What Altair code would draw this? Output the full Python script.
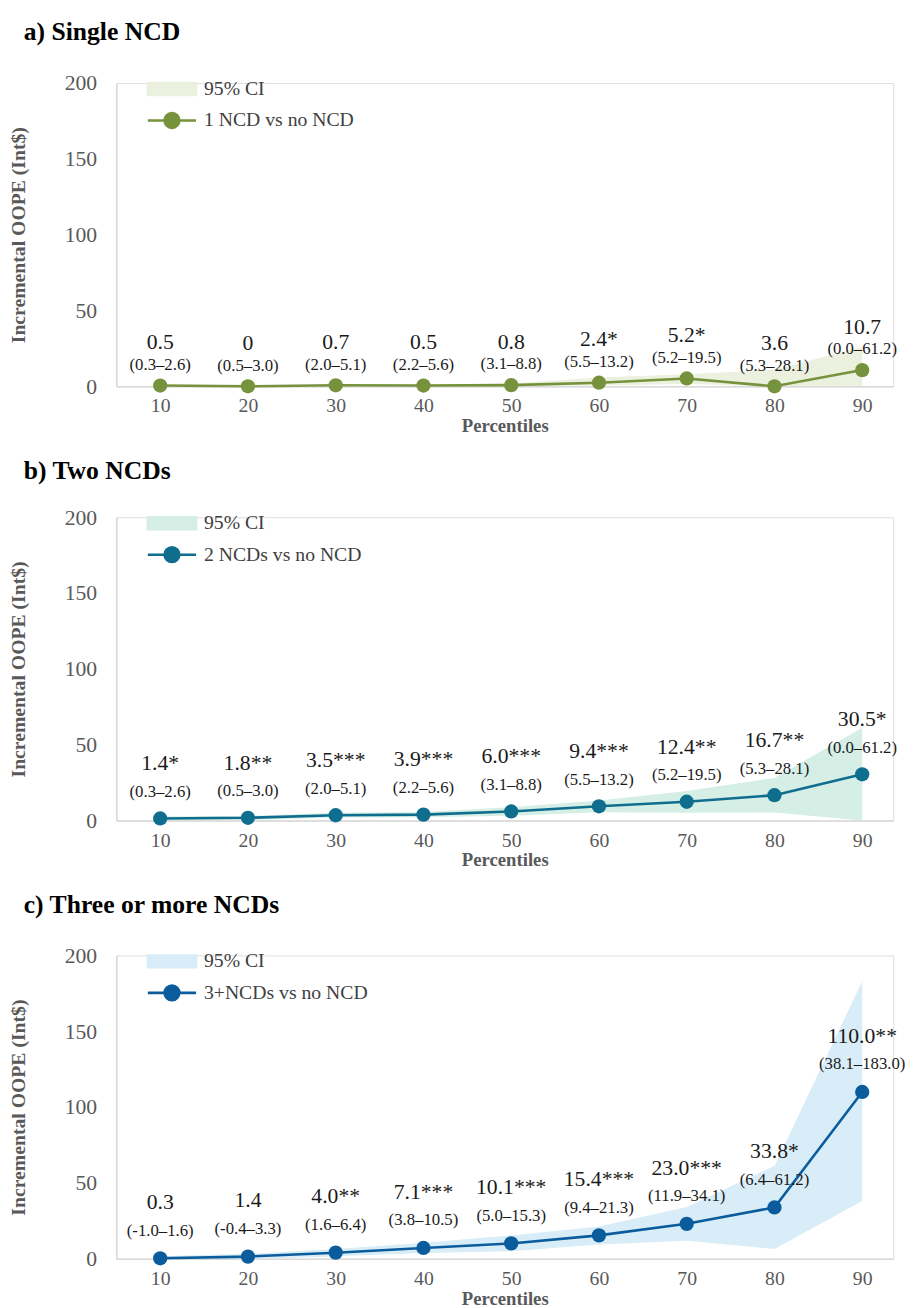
import altair as alt
import pandas as pd

percentiles = [10, 20, 30, 40, 50, 60, 70, 80, 90]

# Panel a) Single NCD
a_values = [0.5, 0.0, 0.7, 0.5, 0.8, 2.4, 5.2, 0.0, 10.7]
a_labels = ["0.5", "0", "0.7", "0.5", "0.8", "2.4*", "5.2*", "3.6", "10.7"]
a_ci_labels = ["(0.3–2.6)", "(0.5–3.0)", "(2.0–5.1)", "(2.2–5.6)", "(3.1–8.8)",
               "(5.5–13.2)", "(5.2–19.5)", "(5.3–28.1)", "(0.0–61.2)"]
a_lower = [0.0, 0.0, 0.0, 0.0, 0.0, 0.5, 1.5, 0.0, 0.0]
a_upper = [0.8, 0.5, 0.8, 1.0, 1.8, 5.8, 8.0, 11.0, 26.0]

# Panel b) Two NCDs
b_values = [1.4, 1.8, 3.5, 3.9, 6.0, 9.4, 12.4, 16.7, 30.5]
b_labels = ["1.4*", "1.8**", "3.5***", "3.9***", "6.0***", "9.4***", "12.4**", "16.7**", "30.5*"]
b_ci_labels = ["(0.3–2.6)", "(0.5–3.0)", "(2.0–5.1)", "(2.2–5.6)", "(3.1–8.8)",
               "(5.5–13.2)", "(5.2–19.5)", "(5.3–28.1)", "(0.0–61.2)"]
b_lower = [0.3, 0.5, 2.0, 2.2, 3.1, 5.5, 5.2, 5.3, 0.0]
b_upper = [2.6, 3.0, 5.1, 5.6, 8.8, 13.2, 19.5, 28.1, 61.2]

# Panel c) Three or more NCDs
c_values = [0.3, 1.4, 4.0, 7.1, 10.1, 15.4, 23.0, 33.8, 110.0]
c_labels = ["0.3", "1.4", "4.0**", "7.1***", "10.1***", "15.4***", "23.0***", "33.8*", "110.0**"]
c_ci_labels = ["(-1.0–1.6)", "(-0.4–3.3)", "(1.6–6.4)", "(3.8–10.5)", "(5.0–15.3)",
               "(9.4–21.3)", "(11.9–34.1)", "(6.4–61.2)", "(38.1–183.0)"]
c_lower = [-1.0, -0.4, 1.6, 3.8, 5.0, 9.4, 11.9, 6.4, 38.1]
c_upper = [1.6, 3.3, 6.4, 10.5, 15.3, 21.3, 34.1, 61.2, 183.0]

y_ticks = [0, 50, 100, 150, 200]

FONT = "Liberation Serif"
W, H = 789, 308
X_DOMAIN = [5, 93.53]

RECT_PATH = "M-4.083,-1H4.083V1H-4.083Z"
LINE_PATH = "M-4.083,0H4.083M-1.25,0A1.25,1.25,0,1,0,1.25,0A1.25,1.25,0,1,0,-1.25,0Z"


def panel(title, series, values, labels, ci_labels, lower, upper,
          line_color, band_color, val_dy, ci_dy, title_offset):
    df = pd.DataFrame({
        "pct": percentiles, "value": values, "label": labels,
        "ci": ci_labels, "lower": lower, "upper": upper,
    })
    x = alt.X("pct:Q",
              scale=alt.Scale(domain=X_DOMAIN, nice=False, zero=False),
              axis=alt.Axis(values=percentiles, format="d", title="Percentiles",
                            grid=False, ticks=False, domainColor="#d9d9d9",
                            domainWidth=1.5, labelFont=FONT, labelFontSize=20,
                            labelColor="#595959", labelPadding=10,
                            titleFont=FONT, titleFontSize=19, titleFontWeight="bold",
                            titleColor="#595959", titlePadding=1))
    y_axis = alt.Axis(values=y_ticks, title="Incremental OOPE (Int$)", grid=False,
                      ticks=False, domainColor="#d9d9d9", domainWidth=1.5,
                      labelFont=FONT, labelFontSize=22, labelColor="#595959",
                      labelPadding=20, titleFont=FONT, titleFontSize=20,
                      titleFontWeight="bold", titleColor="#595959", titlePadding=36)
    yscale = alt.Scale(domain=[0, 200], nice=False)
    base = alt.Chart(df)

    band = base.mark_area(color=band_color, opacity=1, clip=True).encode(
        x=x, y=alt.Y("lower:Q", scale=yscale, axis=y_axis), y2="upper:Q")
    line = base.mark_line(color=line_color, strokeWidth=2.6).encode(
        x=x, y=alt.Y("value:Q", scale=yscale))
    pts = base.mark_circle(color=line_color, size=210, opacity=1).encode(
        x=x, y=alt.Y("value:Q", scale=yscale))
    vtxt = base.mark_text(font=FONT, fontSize=22, color="#1a1a1a", dy=val_dy,
                          baseline="middle").encode(
        x=x, y=alt.Y("value:Q", scale=yscale), text="label:N")
    ctxt = base.mark_text(font=FONT, fontSize=17, color="#1a1a1a", dy=ci_dy,
                          baseline="middle").encode(
        x=x, y=alt.Y("value:Q", scale=yscale), text="ci:N")

    names = ["95% CI", series]
    leg_df = pd.DataFrame({"series": names, "pct": [10, 10], "value": [0, 0]})
    legend = alt.Legend(title=None, orient="none", legendX=28, legendY=-4,
                        symbolSize=144, symbolStrokeWidth=2.6, symbolOpacity=1,
                        symbolOffset=18.5, labelOffset=22.5, rowPadding=7,
                        labelFont=FONT, labelFontSize=20, labelColor="#404040",
                        labelLimit=400, padding=0)
    leg = alt.Chart(leg_df).mark_point(filled=True, opacity=0).encode(
        x=x, y=alt.Y("value:Q", scale=yscale),
        fill=alt.Fill("series:N", sort=names,
                      scale=alt.Scale(domain=names, range=[band_color, line_color]),
                      legend=legend),
        stroke=alt.Stroke("series:N", sort=names,
                          scale=alt.Scale(domain=names, range=[band_color, line_color]),
                          legend=legend),
        shape=alt.Shape("series:N", sort=names,
                        scale=alt.Scale(domain=names, range=[RECT_PATH, LINE_PATH]),
                        legend=legend),
    )

    return alt.layer(band, line, pts, vtxt, ctxt, leg).properties(
        width=W, height=H,
        title=alt.TitleParams(title, anchor="start", font=FONT, fontSize=26,
                              fontWeight="bold", color="#000000", dx=15,
                              offset=title_offset),
    )


pa = panel("a) Single NCD", "1 NCD vs no NCD", a_values, a_labels, a_ci_labels,
           a_lower, a_upper, "#76923c", "#ebf1de", -44, -21, 28)
pb = panel("b) Two NCDs", "2 NCDs vs no NCD", b_values, b_labels, b_ci_labels,
           b_lower, b_upper, "#0f6d8e", "#d5eee6", -56, -27, 23)
pc = panel("c) Three or more NCDs", "3+NCDs vs no NCD", c_values, c_labels, c_ci_labels,
           c_lower, c_upper, "#0b5c9c", "#d8edf7", -57, -28, 27)

chart = alt.vconcat(pa, pb, pc, spacing=21).resolve_scale(
    fill="independent", stroke="independent", shape="independent"
).resolve_legend(
    fill="independent", stroke="independent", shape="independent"
).properties(padding=0).configure_view(stroke=None).configure(background="white")

chart.save("out.html", embed_options={"renderer": "svg", "actions": False})
